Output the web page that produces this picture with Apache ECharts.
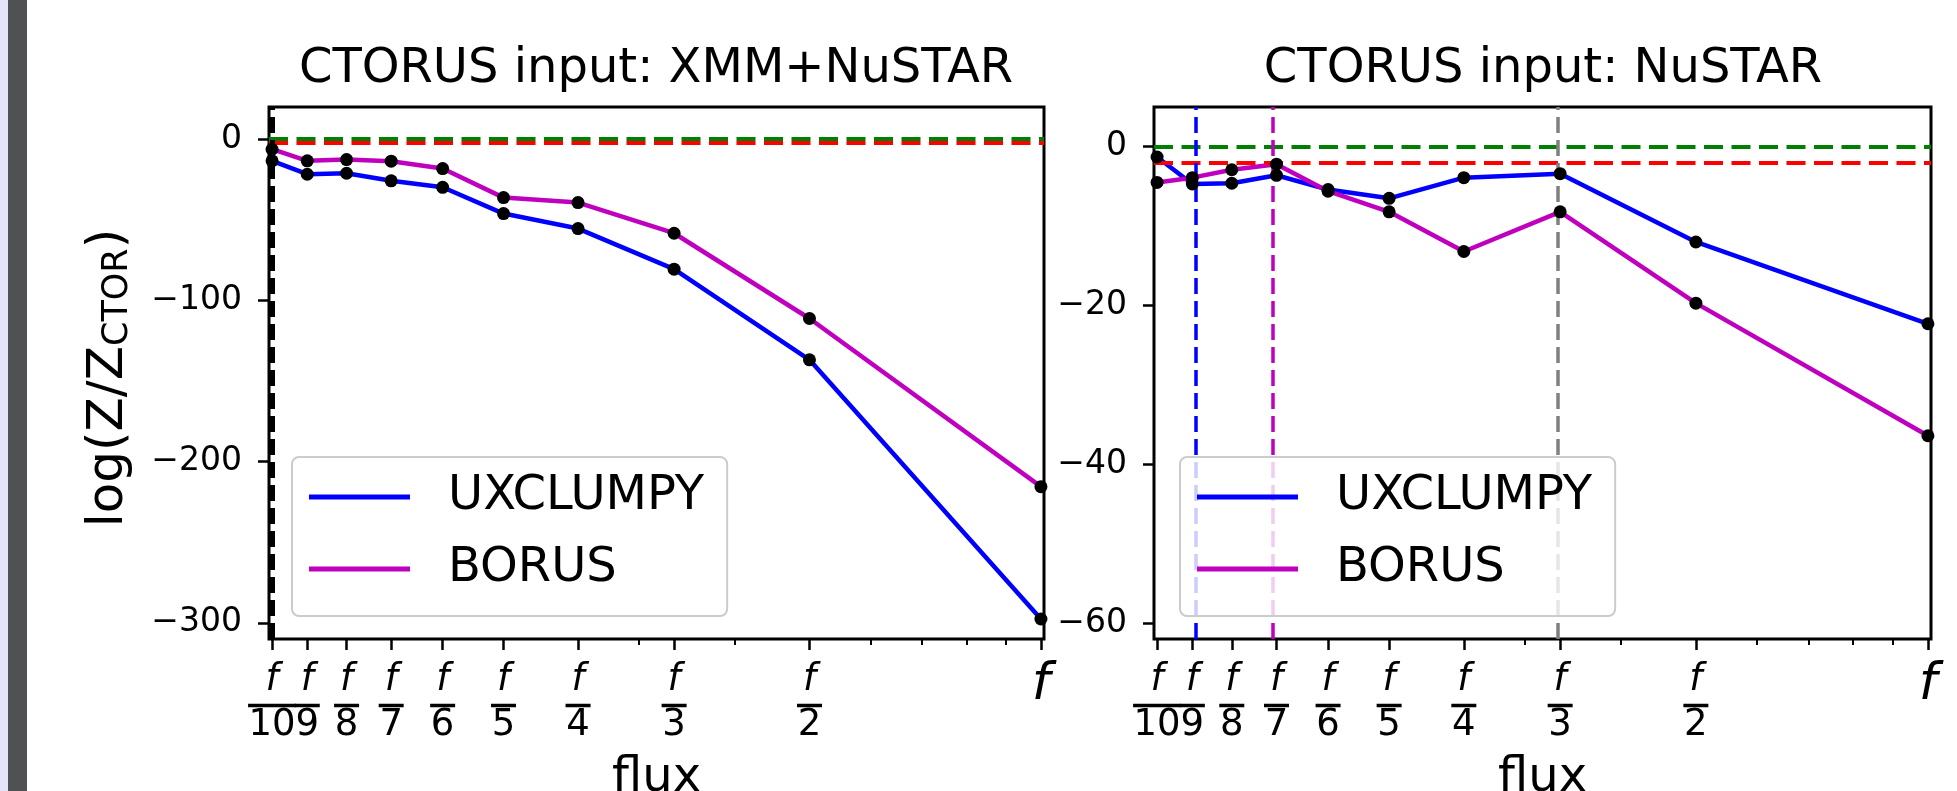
<!DOCTYPE html>
<html>
<head>
<meta charset="utf-8">
<script src="https://cdn.jsdelivr.net/npm/echarts@6/dist/echarts.min.js"></script>
<style>
  html, body { margin: 0; padding: 0; background: #fff; }
  #chart { width: 1957px; height: 791px; }
</style>
</head>
<body>
<div id="chart"></div>
<script>
// flux = f / n
const fluxDiv = [10, 9, 8, 7, 6, 5, 4, 3, 2, 1]
const minorFlux = [0.3, 0.4, 0.6, 0.7, 0.8, 0.9]

// CTORUS input: XMM+NuSTAR
const xmmUxclumpy = [-13.4, -21.7, -21.1, -25.8, -29.8, -46.1, -55.4, -80.6, -136.8, -297.6]
const xmmBorus = [-6.2, -13.4, -12.6, -13.6, -18.2, -36.2, -39.3, -58.3, -111.2, -215.5]
// CTORUS input: NuSTAR
const nuUxclumpy = [-1.3, -4.7, -4.6, -3.6, -5.4, -6.5, -3.9, -3.4, -12.0, -22.3]
const nuBorus = [-4.5, -3.9, -2.9, -2.2, -5.6, -8.2, -13.2, -8.2, -19.7, -36.4]

const leftYTicks = [0, -100, -200, -300]
const rightYTicks = [0, -20, -40, -60]
const refLevels = [0, -2]          // green, red
const leftMarkDiv = [10]           // black
const rightMarkDiv = [9, 7, 3]     // blue, magenta, gray

const titles = ['CTORUS input: XMM+NuSTAR', 'CTORUS input: NuSTAR']
const seriesNames = ['UXCLUMPY', 'BORUS']

const FONT = 'DejaVu Sans'
const BLUE = '#0000ff'
const MAG = '#bf00bf'
const lx = n => Math.log10(1 / n)
const XMIN = -1.004, XMAX = 0.004

const fluxLabel = v => {
  const n = Math.round(Math.pow(10, -v))
  if (n === 1) return '{big|f}'
  return '{num|f}\n{' + (n >= 10 ? 'bar2' : 'bar1') + '| }\n{den|' + n + '}'
}
const minus = v => (v < 0 ? '\u2212' : '') + Math.abs(v)

const grids = [
  { left: 269, top: 107, width: 775, height: 532 },
  { left: 1154, top: 107, width: 777, height: 532 }
]

const fracLabel = values => ({
  customValues: values, margin: 26, formatter: fluxLabel,
  showMinLabel: true, showMaxLabel: true, hideOverlap: false,
  color: '#000', fontFamily: FONT,
  rich: {
    num: { fontFamily: FONT, fontSize: 37, fontStyle: 'italic', lineHeight: 31, align: 'center', color: '#000' },
    den: { fontFamily: FONT, fontSize: 37, lineHeight: 20, align: 'center', color: '#000' },
    bar1: { width: 25, height: 3.5, lineHeight: 19, fontSize: 2, backgroundColor: '#000', align: 'center' },
    bar2: { width: 48, height: 3.5, lineHeight: 19, fontSize: 2, backgroundColor: '#000', align: 'center' },
    big: { fontFamily: FONT, fontSize: 52, fontStyle: 'italic', lineHeight: 41, align: 'center', color: '#000' }
  }
})

const mainX = gi => ({
  type: 'value', gridIndex: gi, min: XMIN, max: XMAX,
  name: 'flux', nameLocation: 'middle', nameGap: 116,
  nameTextStyle: { fontFamily: FONT, fontSize: 48, color: '#000', lineHeight: 48 },
  axisLine: { show: false, onZero: false },
  splitLine: { show: false },
  axisTick: { customValues: fluxDiv.map(lx), length: 11, lineStyle: { color: '#000', width: 2.5 } },
  axisLabel: fracLabel(fluxDiv.slice(1).map(lx))
})
// minor log ticks + the f/10 label (kept apart so it may overlap f/9 like the original)
const minorX = gi => ({
  type: 'value', gridIndex: gi, min: XMIN, max: XMAX, position: 'bottom',
  axisLine: { show: false, onZero: false }, splitLine: { show: false },
  axisLabel: fracLabel(fluxDiv.slice(0, 1).map(lx)),
  axisTick: { customValues: minorFlux.map(v => Math.log10(v)), length: 6, lineStyle: { color: '#000', width: 2 } }
})
const yAx = (gi, min, max, ticks, withName) => ({
  type: 'value', gridIndex: gi, min: min, max: max, position: 'left',
  name: withName ? '{a|log(Z/Z}{s|CTOR}{a|)}' : '',
  nameLocation: 'middle', nameGap: 132,
  nameTextStyle: {
    padding: [0, 10, 0, 0],
    rich: {
      a: { fontFamily: FONT, fontSize: 50, color: '#000', lineHeight: 56 },
      s: { fontFamily: FONT, fontSize: 35, color: '#000', lineHeight: 56, padding: [17, 0, 0, 0] }
    }
  },
  axisLine: { show: false, onZero: false },
  splitLine: { show: false },
  axisTick: { customValues: ticks, length: 11, lineStyle: { color: '#000', width: 2.5 } },
  axisLabel: { customValues: ticks, formatter: minus, margin: 27, fontFamily: FONT, fontSize: 33, color: '#000',
    showMinLabel: true, showMaxLabel: true }
})

const pts = vals => fluxDiv.map((n, i) => [lx(n), vals[i]])

const lineSeries = (name, color, vals, xi, yi) => ({
  name: name, type: 'line', xAxisIndex: xi, yAxisIndex: yi,
  data: pts(vals), showSymbol: false, symbol: 'none', z: 2,
  itemStyle: { color: color }, lineStyle: { color: color, width: 4.5 }
})
const dotSeries = (vals, xi, yi) => ({
  name: 'pts', type: 'scatter', xAxisIndex: xi, yAxisIndex: yi,
  data: pts(vals), symbolSize: 13, itemStyle: { color: '#000', opacity: 1 }, z: 6, silent: true
})
const hLines = [
  { yAxis: refLevels[0], lineStyle: { color: '#008000', width: 4, type: [19, 8.5] } },
  { yAxis: refLevels[1], lineStyle: { color: '#ff0000', width: 4, type: [19, 8.5] } }
]
const markSeries = (xi, yi, vlines) => ({
  name: 'marks', type: 'line', xAxisIndex: xi, yAxisIndex: yi, data: [], silent: true,
  markLine: {
    symbol: ['none', 'none'], silent: true, animation: false,
    label: { show: false },
    data: hLines.concat(vlines)
  }
})

const vStyle = (n, color, width) => ({ xAxis: lx(n), lineStyle: { color: color, width: width, type: [16, 7] } })
const leftV = leftMarkDiv.map(n => vStyle(n, '#000', 5))
const rightColors = [BLUE, MAG, '#808080']
const rightV = rightMarkDiv.map((n, i) => vStyle(n, rightColors[i], 3.5))

const legendBox = left => ({
  orient: 'vertical', left: left, top: 457, z: 10,
  data: seriesNames, icon: 'rect', itemWidth: 101, itemHeight: 5, itemGap: 22,
  backgroundColor: 'rgba(255,255,255,0.8)', borderColor: '#cccccc', borderWidth: 2, borderRadius: 7,
  padding: [15, 23, 22, 17],
  textStyle: { fontFamily: FONT, fontSize: 48, color: '#000', lineHeight: 50, padding: [0, 0, 0, 33] },
  selectedMode: false
})

const chart = echarts.init(document.getElementById('chart'))
chart.setOption({
  animation: false,
  backgroundColor: '#fff',
  title: titles.map((t, i) => ({
    text: t, left: i === 0 ? 656 : 1543, top: 46, textAlign: 'center', padding: 0,
    textStyle: { fontFamily: FONT, fontSize: 48, fontWeight: 'normal', color: '#000', lineHeight: 48 }
  })),
  graphic: [
    { type: 'rect', shape: { x: 0, y: 0, width: 8, height: 791 }, style: { fill: '#e4e4f8' } },
    { type: 'rect', shape: { x: 8, y: 0, width: 19, height: 791 }, style: { fill: '#4f5153' } }
  ],
  legend: [legendBox(292), legendBox(1180)],
  grid: grids.map(g => Object.assign({
    show: true, borderColor: '#000', borderWidth: 3, backgroundColor: 'transparent',
    containLabel: false, outerBoundsMode: 'none'
  }, g)),
  xAxis: [mainX(0), minorX(0), mainX(1), minorX(1)],
  yAxis: [yAx(0, -310, 20, leftYTicks, true), yAx(1, -62, 5, rightYTicks, false)],
  series: [
    markSeries(0, 0, leftV),
    lineSeries(seriesNames[0], BLUE, xmmUxclumpy, 0, 0),
    lineSeries(seriesNames[1], MAG, xmmBorus, 0, 0),
    dotSeries(xmmUxclumpy, 0, 0),
    dotSeries(xmmBorus, 0, 0),
    markSeries(2, 1, rightV),
    lineSeries(seriesNames[0], BLUE, nuUxclumpy, 2, 1),
    lineSeries(seriesNames[1], MAG, nuBorus, 2, 1),
    dotSeries(nuUxclumpy, 2, 1),
    dotSeries(nuBorus, 2, 1)
  ]
})
</script>
</body>
</html>
